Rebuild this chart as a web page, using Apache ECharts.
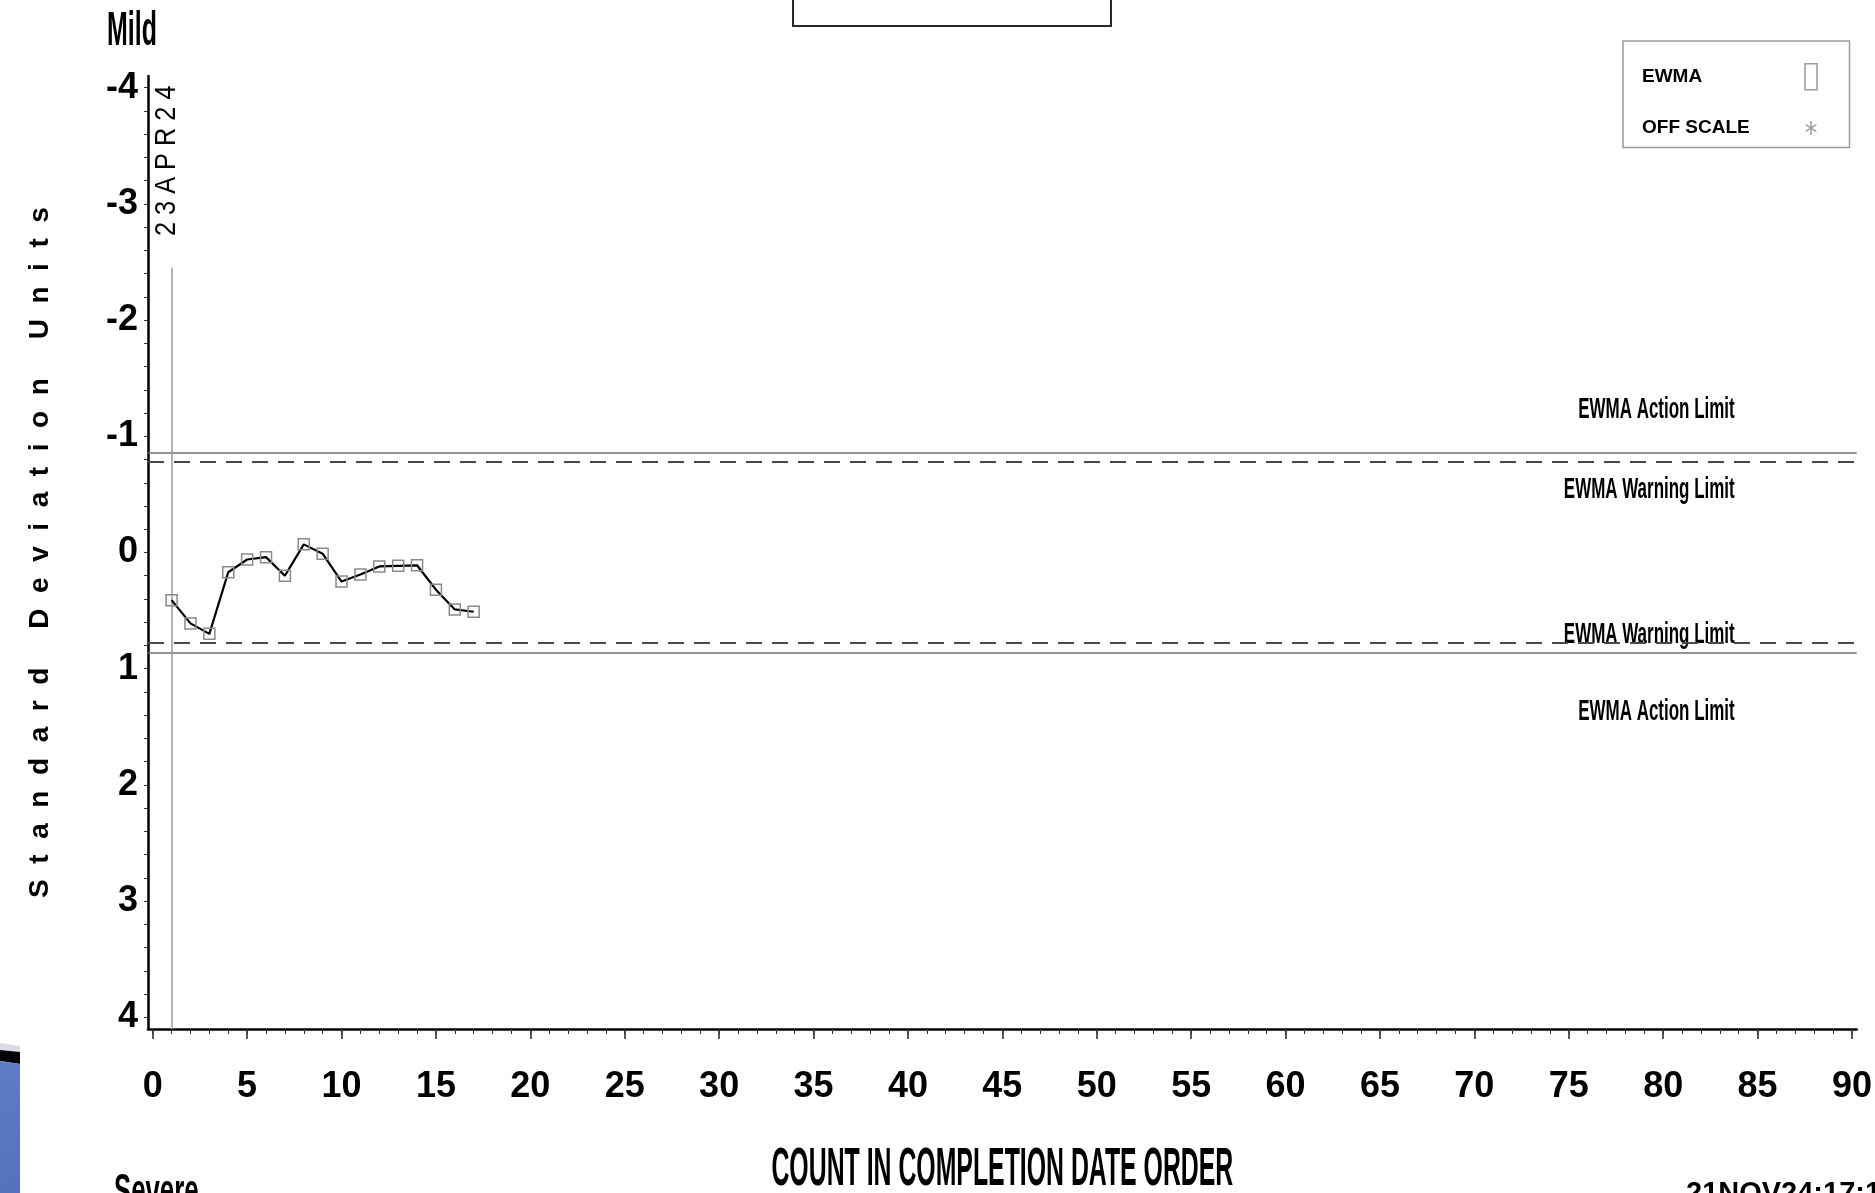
<!DOCTYPE html>
<html>
<head>
<meta charset="utf-8">
<script src="https://cdn.jsdelivr.net/npm/echarts@6/dist/echarts.min.js"></script>
<style>
html,body{margin:0;padding:0;background:#ffffff;}
#c{width:1875px;height:1193px;}
</style>
</head>
<body>
<div id="c"></div>
<script>
// ---- data ----
const counts = [1, 2, 3, 4, 5, 6, 7, 8, 9, 10, 11, 12, 13, 14, 15, 16, 17];
const ewmaValues = [0.41, 0.61, 0.70, 0.17, 0.06, 0.04, 0.20, -0.07, 0.01, 0.25, 0.19, 0.12, 0.115, 0.11, 0.32, 0.49, 0.51];
const xTickLabels = [0, 5, 10, 15, 20, 25, 30, 35, 40, 45, 50, 55, 60, 65, 70, 75, 80, 85, 90];
const xMinorTicks = [0,1,2,3,4,5,6,7,8,9,10,11,12,13,14,15,16,17,18,19,20,21,22,23,24,25,26,27,28,29,30,31,32,33,34,35,36,37,38,39,40,41,42,43,44,45,46,47,48,49,50,51,52,53,54,55,56,57,58,59,60,61,62,63,64,65,66,67,68,69,70,71,72,73,74,75,76,77,78,79,80,81,82,83,84,85,86,87,88,89,90];
const yTickLabels = [-4, -3, -2, -1, 0, 1, 2, 3, 4];
const yMinorTicks = [-4,-3.8,-3.6,-3.4,-3.2,-3,-2.8,-2.6,-2.4,-2.2,-2,-1.8,-1.6,-1.4,-1.2,-1,-0.8,-0.6,-0.4,-0.2,0,0.2,0.4,0.6,0.8,1,1.2,1.4,1.6,1.8,2,2.2,2.4,2.6,2.8,3,3.2,3.4,3.6,3.8,4];
const actionLimit = 0.865;
const warningLimit = 0.775;
const startCount = 1;
const startLineTop = -2.45;
const startDateLabel = '2 3 A P R 2 4';
const limitLabels = ['EWMA Action Limit', 'EWMA Warning Limit', 'EWMA Warning Limit', 'EWMA Action Limit'];
const legendNames = ['EWMA', 'OFF SCALE'];
const yAxisTitle = 'S  t  a  n  d  a  r  d     D  e  v  i  a  t  i  o  n     U  n  i  t  s';
const xAxisTitle = 'COUNT IN COMPLETION DATE ORDER';
const topNote = 'Mild';
const bottomNote = 'Severe';
const stampText = '21NOV24:17:16';

// ---- chart ----
const SANS = '"Liberation Sans", Arial, Helvetica, sans-serif';
const X_MIN = -0.25, X_MAX = 90.25, Y_MIN = -4.1, Y_MAX = 4.1;
const ASTERISK = 'path://M0,0M12,26M6,6L6,20M0.6,9.5L11.4,16.5M0.6,16.5L11.4,9.5';

const chart = echarts.init(document.getElementById('c'), null, { renderer: 'canvas' });

const solidLimit = { type: 'solid', color: '#6f6f6f', width: 1.5 };
const dashedLimit = { type: [16, 10], color: '#4a4a4a', width: 2 };

const option = {
  backgroundColor: '#ffffff',
  animation: false,
  grid: { left: 148, top: 76, width: 1710, height: 953, containLabel: false },
  legend: {
    orient: 'vertical',
    left: 1623,
    top: 41,
    align: 'right',
    padding: [22, 30, 4, 19],
    itemGap: 22,
    itemWidth: 12,
    itemHeight: 26,
    borderColor: '#9a9a9a',
    borderWidth: 1.5,
    selectedMode: false,
    formatter: function (name) { return '{t|' + name + '}'; },
    textStyle: {
      fontFamily: SANS, fontWeight: 'bold', fontSize: 19, color: '#000',
      rich: { t: { width: 158, align: 'left', fontFamily: SANS, fontWeight: 'bold', fontSize: 19, color: '#000' } }
    },
    data: [
      { name: legendNames[0], icon: 'rect', itemStyle: { color: 'rgba(255,255,255,0)', borderColor: '#9a9a9a', borderWidth: 1.5 } },
      { name: legendNames[1], icon: ASTERISK, itemStyle: { color: 'none', borderColor: '#777', borderWidth: 1.3 } }
    ]
  },
  xAxis: [
    {
      type: 'value', min: X_MIN, max: X_MAX, position: 'bottom',
      splitLine: { show: false },
      axisLine: { show: true, onZero: false, lineStyle: { color: '#000', width: 2.5 } },
      axisTick: { show: true, customValues: xTickLabels, length: 10, lineStyle: { color: '#222', width: 1.5 } },
      axisLabel: { show: true, customValues: xTickLabels, margin: 40, fontFamily: SANS, fontWeight: 'bold', fontSize: 36, color: '#000' }
    },
    {
      type: 'value', min: X_MIN, max: X_MAX, position: 'bottom',
      splitLine: { show: false },
      axisLine: { show: false, onZero: false },
      axisTick: { show: true, customValues: xMinorTicks, length: 5, lineStyle: { color: '#333', width: 1 } },
      axisLabel: { show: false }
    }
  ],
  yAxis: {
    type: 'value', inverse: true, min: Y_MIN, max: Y_MAX,
    splitLine: { show: false },
    axisLine: { show: true, onZero: false, lineStyle: { color: '#000', width: 2.5 } },
    axisTick: { show: true, customValues: yMinorTicks, length: 4, lineStyle: { color: '#333', width: 1 } },
    axisLabel: { show: true, customValues: yTickLabels, margin: 10, fontFamily: SANS, fontWeight: 'bold', fontSize: 36, color: '#000' },
    name: yAxisTitle, nameLocation: 'middle', nameGap: 94,
    nameTextStyle: { fontFamily: SANS, fontWeight: 'bold', fontSize: 28, color: '#000' }
  },
  series: [
    {
      name: legendNames[0],
      type: 'line',
      data: counts.map((c, i) => [c, ewmaValues[i]]),
      symbol: 'rect',
      symbolSize: 11,
      lineStyle: { color: '#000', width: 2.2 },
      itemStyle: { color: 'rgba(255,255,255,0)', borderColor: '#8a8a8a', borderWidth: 1.5 },
      z: 5,
      markLine: {
        silent: true,
        symbol: 'none',
        label: { show: false },
        emphasis: { disabled: true },
        data: [
          { yAxis: -actionLimit, lineStyle: solidLimit },
          { yAxis: -warningLimit, lineStyle: dashedLimit },
          { yAxis: warningLimit, lineStyle: dashedLimit },
          { yAxis: actionLimit, lineStyle: solidLimit },
          [
            { coord: [startCount, startLineTop], lineStyle: { type: 'solid', color: '#9c9c9c', width: 1.5 } },
            { coord: [startCount, Y_MAX] }
          ]
        ]
      }
    },
    {
      name: legendNames[1],
      type: 'scatter',
      data: [],
      symbol: ASTERISK
    }
  ]
};

chart.setOption(option);

const px = (x, y) => chart.convertToPixel({ xAxisIndex: 0, yAxisIndex: 0 }, [x, y]);
const rightX = px(X_MAX, 0)[0] - 122;
const limitVals = [-actionLimit, -warningLimit, warningLimit, actionLimit];
const limitOffsets = [-42, 28, -8, 59];
const limitTexts = limitVals.map((v, i) => ({
  type: 'text',
  x: rightX,
  y: px(0, v)[1] + limitOffsets[i],
  scaleX: 0.585,
  silent: true,
  style: { text: limitLabels[i], fill: '#000', font: 'bold 29px ' + SANS, textAlign: 'right', textVerticalAlign: 'middle' }
}));

const startTop = px(startCount, startLineTop);
const axisBottom = px(0, Y_MAX)[1];
const gridMidX = px((X_MIN + X_MAX) / 2, 0)[0];

chart.setOption({
  graphic: [
    // title box cut off at top
    { type: 'rect', shape: { x: 793, y: -30, width: 318, height: 56 }, style: { fill: 'none', stroke: '#2a2a2a', lineWidth: 2 }, silent: true },
    // x axis title
    { type: 'text', x: gridMidX, y: axisBottom + 141, scaleX: 0.46, silent: true,
      style: { text: xAxisTitle, fill: '#000', font: 'bold 54px ' + SANS, textAlign: 'center', textVerticalAlign: 'middle' } },
    // Mild / Severe
    { type: 'text', x: 132, y: 32, scaleX: 0.52, silent: true, style: { text: topNote, fill: '#000', font: 'bold 48px ' + SANS, textAlign: 'center', textVerticalAlign: 'middle' } },
    { type: 'text', x: 114, y: 1193, scaleX: 0.56, silent: true, style: { text: bottomNote, fill: '#000', font: 'bold 46px ' + SANS, textAlign: 'left', textVerticalAlign: 'middle' } },
    // time stamp cut off
    { type: 'text', x: 1686, y: 1194, silent: true, style: { text: stampText, fill: '#000', font: 'bold 29px ' + SANS, textAlign: 'left', textVerticalAlign: 'middle' } },
    // start date label
    { type: 'text', x: startTop[0] - 4, y: startTop[1] - 107, rotation: Math.PI / 2, scaleX: 1.15, scaleY: 1.3, silent: true,
      style: { text: startDateLabel, fill: '#000', font: '22px ' + SANS, textAlign: 'center', textVerticalAlign: 'middle' } },
    // slide decoration bottom-left
    { type: 'polygon', silent: true, shape: { points: [[0, 1043], [20, 1046], [20, 1052], [0, 1050]] }, style: { fill: '#d9dce8' } },
    { type: 'polygon', silent: true, shape: { points: [[0, 1050], [20, 1052], [20, 1064], [0, 1061]] }, style: { fill: '#050505' } },
    { type: 'polygon', silent: true, shape: { points: [[0, 1061], [20, 1064], [20, 1193], [0, 1193]] },
      style: { fill: new echarts.graphic.LinearGradient(0, 0, 1, 1, [{ offset: 0, color: '#5f7bc8' }, { offset: 1, color: '#5570bd' }]) } }
  ].concat(limitTexts)
});
</script>
</body>
</html>
